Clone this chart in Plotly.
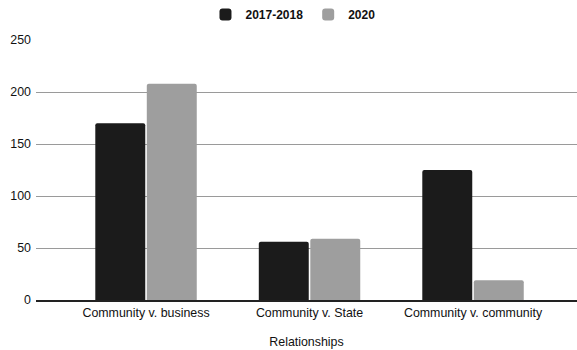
import plotly.graph_objects as go

categories = ["Community v. business", "Community v. State", "Community v. community"]
series_names = ["2017-2018", "2020"]
values_2017_2018 = [170, 56, 125]
values_2020 = [208, 59, 19]
y_ticks = [0, 50, 100, 150, 200, 250]

colors = ["#1b1b1b", "#9e9e9e"]
fig = go.Figure()
for name, vals, c in zip(series_names, [values_2017_2018, values_2020], colors):
    fig.add_trace(go.Bar(x=list(range(len(categories))), y=vals, name=name,
                         marker=dict(color=c, line=dict(width=0), cornerradius=2)))

fig.update_layout(
    width=577, height=350,
    margin=dict(l=36, r=0, t=40, b=50),
    plot_bgcolor="white", paper_bgcolor="white",
    barmode="group", bargap=0.37, bargroupgap=0.03,
    font=dict(family="Liberation Sans, Arial, sans-serif", size=12.4, color="#111111"),
    legend=dict(orientation="h", x=0.475, xanchor="center", y=1.1, yanchor="middle",
                font=dict(size=12, color="#111111", weight="bold"), itemwidth=30,
                traceorder="normal"),
    xaxis=dict(tickmode="array", tickvals=list(range(len(categories))), ticktext=categories,
               range=[-0.673, 2.636], showgrid=False, showline=True, linecolor="#222222",
               linewidth=1.5, ticks="", title=dict(text="Relationships", standoff=19,
               font=dict(size=12.4, color="#111111"))),
    yaxis=dict(range=[0, 250], tickvals=y_ticks, showgrid=True, gridcolor="#9a9a9a",
               gridwidth=1, zeroline=False, ticks="", showline=False,
               ticklabelstandoff=4),
    showlegend=True,
)
fig.write_html("out.html")
